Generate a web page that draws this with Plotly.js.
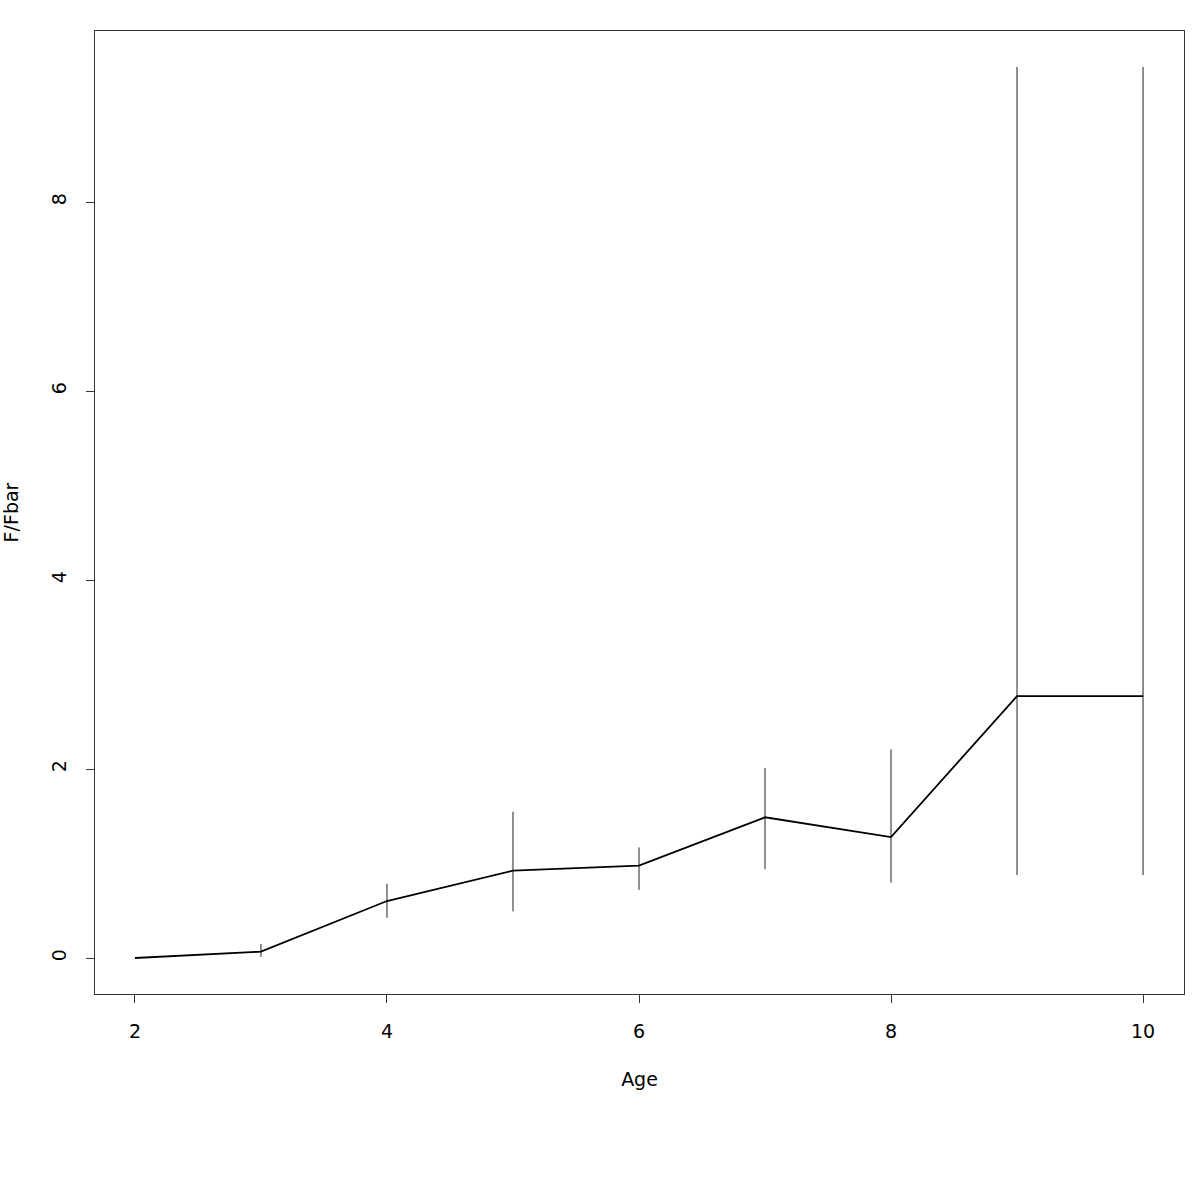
<!DOCTYPE html>
<html>
<head>
<meta charset="utf-8">
<script src="https://cdn.plot.ly/plotly-3.0.1.min.js"></script>
<style>html,body{margin:0;padding:0;background:#fff;}#chart{width:1200px;height:1200px;}</style>
</head>
<body>
<div id="chart"></div>
<script>
const ages = [2, 3, 4, 5, 6, 7, 8, 9, 10];
const ratio = [0.0, 0.067, 0.603, 0.924, 0.977, 1.489, 1.280, 2.772, 2.772];
const upper = [0.0, 0.148, 0.786, 1.548, 1.171, 2.011, 2.208, 9.43, 9.43];
const lower = [0.0, 0.011, 0.426, 0.494, 0.720, 0.939, 0.797, 0.878, 0.878];
const xTicks = [2, 4, 6, 8, 10];
const yTicks = [0, 2, 4, 6, 8];

const plus = upper.map((u, i) => u - ratio[i]);
const minus = ratio.map((r, i) => r - lower[i]);

const font = {family: 'DejaVu Sans, Liberation Sans, sans-serif', size: 19, color: '#000'};

const traces = [
  {
    x: ages, y: ratio, type: 'scatter', mode: 'lines',
    line: {color: '#000', width: 1.8},
    error_y: {type: 'data', symmetric: false, array: plus, arrayminus: minus,
              width: 0, thickness: 1, color: '#222'},
    showlegend: false, hoverinfo: 'x+y'
  }
];

const layout = {
  width: 1200, height: 1200,
  margin: {l: 95, r: 16, t: 31, b: 206},
  paper_bgcolor: '#fff', plot_bgcolor: '#fff',
  font: font,
  showlegend: false,
  xaxis: {
    range: [1.683, 10.325], tickvals: xTicks, ticktext: xTicks.map(String),
    ticks: 'outside', ticklen: 8, tickwidth: 1, tickcolor: '#333',
    showgrid: false, zeroline: false,
    showline: true, mirror: true, linecolor: '#333', linewidth: 1,
    tickfont: font, ticklabelstandoff: 12,
    title: {text: 'Age', font: font, standoff: 31}
  },
  yaxis: {
    range: [-0.381, 9.81], tickvals: yTicks, ticktext: yTicks.map(String),
    ticks: 'outside', ticklen: 8, tickwidth: 1, tickcolor: '#333',
    showgrid: false, zeroline: false,
    showline: true, mirror: true, linecolor: '#333', linewidth: 1,
    tickfont: font, tickangle: -90, ticklabelstandoff: 12,
    title: {text: 'F/Fbar', font: font, standoff: 32}
  }
};

Plotly.newPlot('chart', traces, layout, {displayModeBar: false, staticPlot: true});
</script>
</body>
</html>
